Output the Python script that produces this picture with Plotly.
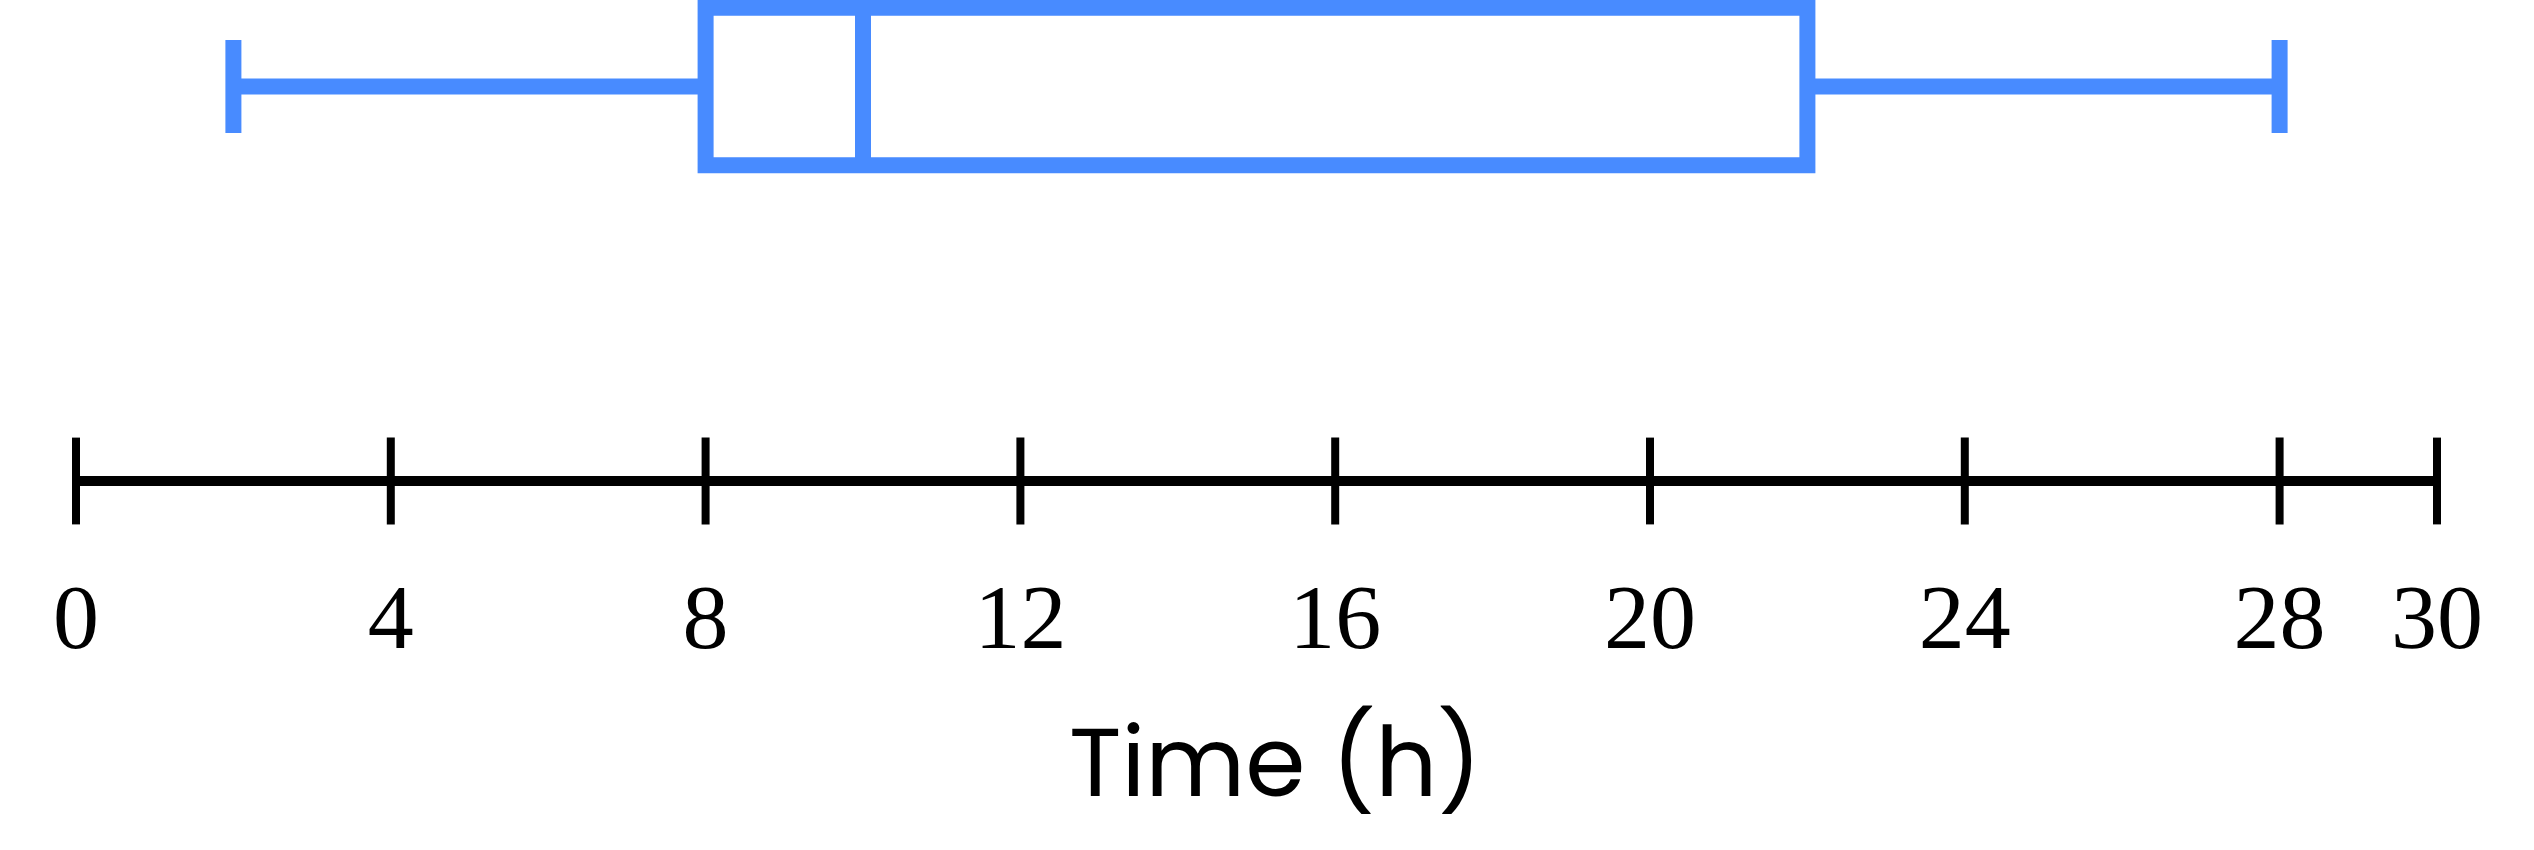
import plotly.graph_objects as go

# Data
box_min = [2]
box_q1 = [8]
box_median = [10]
box_q3 = [22]
box_max = [28]
tick_values = [0, 4, 8, 12, 16, 20, 24, 28, 30]
tick_labels = ["0", "4", "8", "12", "16", "20", "24", "28", "30"]
axis_title = "Time (h)"

BLUE = "#488BFF"

fig = go.Figure()

fig.add_trace(go.Box(
    q1=box_q1, median=box_median, q3=box_q3,
    lowerfence=box_min, upperfence=box_max,
    y=[1], orientation="h",
    width=0.399, whiskerwidth=0.59,
    line=dict(color=BLUE, width=16),
    fillcolor="white", boxpoints=False,
    showlegend=False, hoverinfo="skip",
))

# number line
fig.add_trace(go.Scatter(
    x=[tick_values[0], tick_values[-1]], y=[0, 0],
    mode="lines", line=dict(color="black", width=10),
    showlegend=False, hoverinfo="skip",
))
fig.add_trace(go.Scatter(
    x=tick_values, y=[0] * len(tick_values),
    mode="markers",
    marker=dict(symbol="line-ns", size=62, line=dict(color="black", width=8), color="black"),
    showlegend=False, hoverinfo="skip", cliponaxis=False,
))

fig.update_layout(
    width=2534, height=850,
    margin=dict(l=76, r=97, t=0, b=320),
    paper_bgcolor="white", plot_bgcolor="white",
    xaxis=dict(
        range=[0, 30], tickvals=tick_values, ticktext=tick_labels,
        showgrid=False, zeroline=False, showline=False, ticks="",
        ticklabelstandoff=25,
        tickfont=dict(family="Liberation Serif", size=92, color="black"),
    ),
    yaxis=dict(range=[-0.1242, 1.2193], visible=False, showgrid=False, zeroline=False),
    annotations=[dict(
        text=axis_title, xref="paper", yref="paper",
        x=0.508, y=-0.437, xanchor="center", yanchor="middle",
        showarrow=False,
        font=dict(family="Poppins, Inter, sans-serif", size=97, color="black"),
    )],
)

fig.write_html(
    "out.html",
    config={"displayModeBar": False},
    post_script="document.body.style.margin='0';document.body.style.overflow='hidden';",
)
